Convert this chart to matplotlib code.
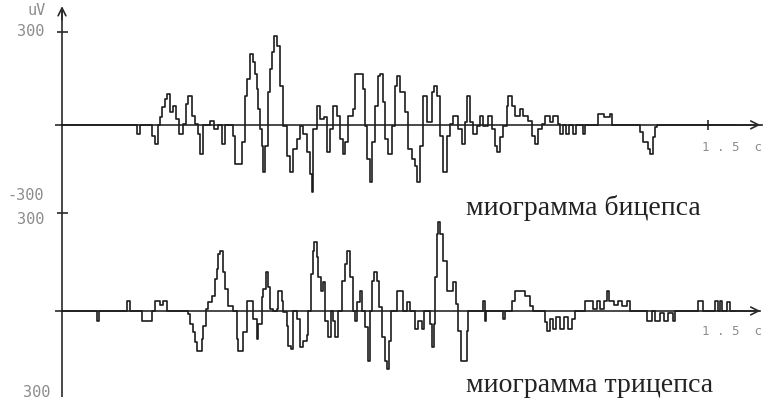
import matplotlib.pyplot as plt

# time in ms, amplitude in uV
biceps_t = [0, 174, 181, 209, 216, 223, 228, 232, 239, 244,
            251, 258, 265, 272, 281, 288, 293, 302, 309, 316,
            320, 327, 344, 353, 362, 372, 378, 390, 397, 402,
            413, 418, 425, 430, 437, 444, 448, 453, 455, 460,
            464, 467, 471, 478, 483, 488, 492, 499, 506, 513,
            522, 529, 536, 546, 553, 560, 569, 576, 581, 583,
            592, 599, 608, 615, 622, 629, 639, 646, 652, 657,
            664, 676, 680, 697, 699, 704, 708, 715, 720, 727,
            734, 738, 745, 750, 757, 766, 773, 778, 785, 796,
            803, 813, 820, 824, 831, 838, 848, 855, 859, 864,
            871, 878, 885, 894, 901, 908, 920, 929, 936, 940,
            947, 954, 964, 971, 978, 989, 998, 1005, 1010, 1017,
            1024, 1033, 1036, 1045, 1052, 1063, 1070, 1082, 1091, 1098,
            1105, 1115, 1122, 1133, 1140, 1152, 1156, 1163, 1170, 1177,
            1187, 1194, 1210, 1214, 1245, 1259, 1272, 1277, 1342, 1349,
            1361, 1365, 1372, 1377, 1382, 1625]
biceps_v = [0, -29, 0, -36, -61, 0, 26, 58, 84, 100,
            42, 61, 19, -29, 3, 68, 94, 29, 3, -29,
            -94, 0, 13, -13, 0, -61, 0, 0, -36, -126,
            -126, -55, 94, 149, 229, 203, 165, 116, 52, -13,
            -68, -152, -68, 107, 181, 236, 287, 255, 126, -3,
            -100, -152, -78, -45, -3, -29, -87, -158, -216, -13,
            61, 19, 26, -87, -13, 61, 29, -45, -94, -55,
            29, 52, 165, 165, 116, -3, -110, -184, -55, 61,
            158, 165, 74, -45, -94, -3, 126, 158, 107, 42,
            -78, -110, -132, -184, -68, 94, 10, 10, 107, 126,
            94, -36, -152, -36, 3, 29, -13, -61, 10, 94,
            10, -29, -3, 29, -3, 29, -13, -68, -87, -39,
            -3, 61, 94, 61, 29, 52, 29, 13, -36, -61,
            -13, 3, 29, 10, 29, 3, -29, 0, -29, 0,
            -29, 0, -29, 0, 36, 26, 36, 0, -23, -55,
            -78, -94, -39, -6, 0, 0]

triceps_t = [0, 79, 81, 86, 151, 158, 186, 209, 216, 228,
             235, 244, 293, 297, 304, 309, 313, 318, 325, 327,
             334, 339, 348, 355, 360, 362, 367, 374, 378, 385,
             397, 406, 409, 418, 420, 430, 441, 444, 453, 455,
             464, 467, 474, 478, 483, 490, 499, 502, 511, 513,
             522, 525, 532, 536, 541, 546, 553, 560, 569, 571,
             578, 583, 585, 592, 594, 601, 606, 611, 618, 625,
             629, 634, 641, 650, 657, 662, 669, 676, 680, 685,
             692, 697, 704, 711, 715, 720, 724, 731, 736, 743,
             750, 755, 759, 764, 773, 778, 787, 792, 801, 808,
             820, 827, 836, 841, 850, 855, 859, 864, 866, 871,
             873, 878, 885, 894, 901, 908, 915, 920, 926, 931,
             940, 943, 978, 982, 985, 1024, 1029, 1045, 1052, 1068,
             1075, 1087, 1094, 1117, 1122, 1126, 1133, 1140, 1147, 1156,
             1166, 1175, 1184, 1191, 1214, 1226, 1233, 1242, 1249, 1259,
             1265, 1270, 1282, 1291, 1300, 1312, 1319, 1358, 1370, 1377,
             1389, 1398, 1407, 1419, 1423, 1477, 1488, 1516, 1523, 1528,
             1533, 1544, 1551, 1621]
triceps_v = [0, 0, -31, 0, 31, 0, -31, 0, 31, 18,
             31, 0, -9, -40, -64, -95, -122, -122, -86, -46,
             6, 28, 46, 98, 129, 174, 184, 119, 67, 15,
             0, -86, -122, -122, -64, 31, 31, -24, -86, -40,
             43, 67, 119, 73, 6, 0, 6, 61, 31, -3,
             -46, -107, -116, 0, 0, -24, -110, -92, -73, 0,
             113, 184, 211, 165, 104, 61, 89, -31, -80, 0,
             -31, -80, 0, 92, 144, 184, 104, 0, -31, 28,
             61, 0, -49, -153, 0, 92, 119, 92, 12, -80,
             -153, -177, -92, 0, 0, 61, 61, 0, 28, 0,
             -55, -31, -55, 0, 0, -40, -110, -40, 104, 236,
             272, 236, 153, 61, 61, 89, 21, -61, -153, -153,
             -61, 0, 31, -31, 0, -24, 0, 31, 61, 61,
             46, 15, 0, 0, -34, -61, -24, -55, -18, -55,
             -18, -55, -24, 0, 31, 31, 6, 31, 6, 31,
             61, 31, 18, 31, 15, 31, 0, -31, 0, -31,
             -6, -31, -6, -31, 0, 31, 0, 31, 0, 31,
             0, 28, 0, 0]

titles = ['миограмма бицепса', 'миограмма трицепса']

ink = '#1c1c1c'
axc = '#2a2a2a'
mono = dict(family='DejaVu Sans Mono', color='#8c8c8c', fontsize=11)

fig = plt.figure(figsize=(7.64, 4.06), dpi=100)
ax1 = fig.add_axes([0, 0.4754, 1, 0.5246])
ax2 = fig.add_axes([0, 0, 1, 0.4754])
ax1.set_xlim(-144, 1630)
ax1.set_ylim(-281, 406)
ax2.set_xlim(-144, 1630)
ax2.set_ylim(-288, 303)

for ax in (ax1, ax2):
    ax.axis('off')
    ax.hlines(0, -16, 1600, color=axc, lw=1.2)
    ax.annotate('', xy=(1628, 0), xytext=(1560, 0),
                arrowprops=dict(arrowstyle='->', color=axc, lw=1.2, mutation_scale=14))
    ax.hlines(300, -12, 14, color=axc, lw=1.2)

ax1.vlines(0, -281, 370, color=axc, lw=1.2)
ax1.annotate('', xy=(0, 392), xytext=(0, 330),
             arrowprops=dict(arrowstyle='->', color=axc, lw=1.2, mutation_scale=14))
ax1.vlines(1500, -16, 16, color=axc, lw=1.2)
ax2.vlines(0, -263, 303, color=axc, lw=1.2)

ax1.plot(biceps_t, biceps_v, color=ink, lw=1.2, drawstyle='steps-post')
ax2.plot(triceps_t, triceps_v, color=ink, lw=1.2, drawstyle='steps-post')

ax1.text(-60, 371, 'uV', ha='center', va='center', **mono)
ax1.text(-72, 306, '300', ha='center', va='center', **mono)
ax1.text(-84, -226, '-300', ha='center', va='center', **mono)
ax1.text(1556, -71, '1 . 5  c', ha='center', va='center',
         family='DejaVu Sans Mono', color='#8c8c8c', fontsize=9)
ax2.text(-72, 282, '300', ha='center', va='center', **mono)
ax2.text(-58, -248, '300', ha='center', va='center', **mono)
ax2.text(1556, -61, '1 . 5  c', ha='center', va='center',
         family='DejaVu Sans Mono', color='#8c8c8c', fontsize=9)

ax1.text(1210, -266, titles[0], ha='center', va='center',
         family='Liberation Serif', fontsize=20, color='#222222')
ax2.text(1226, -226, titles[1], ha='center', va='center',
         family='Liberation Serif', fontsize=20, color='#222222')

fig.savefig('out.png', dpi=100)
